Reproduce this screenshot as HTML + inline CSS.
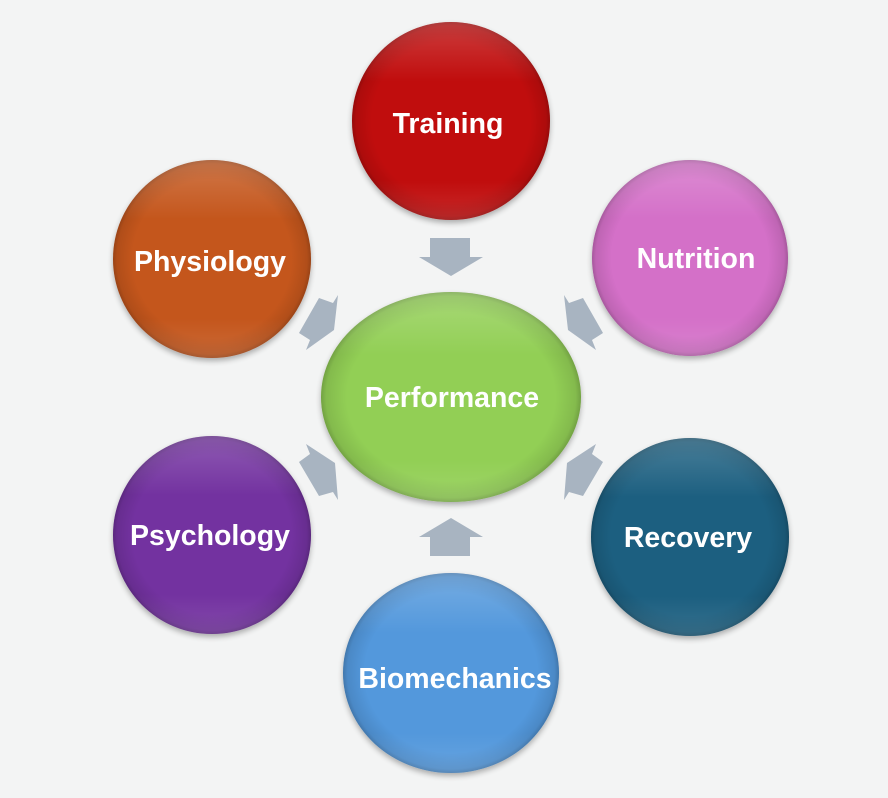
<!DOCTYPE html>
<html><head><meta charset="utf-8"><style>
html,body{margin:0;padding:0;background:#f3f4f4;}
svg{display:block}
text{font-family:"Liberation Sans",Arial,sans-serif;font-weight:bold;font-size:28.5px;fill:#fff;text-anchor:middle;dominant-baseline:central}
</style></head><body>
<svg width="888" height="798" viewBox="0 0 888 798" xmlns="http://www.w3.org/2000/svg">
<defs>
<radialGradient id="bev" cx="50%" cy="50%" r="50%">
<stop offset="0.8" stop-color="#000" stop-opacity="0"/>
<stop offset="0.96" stop-color="#000" stop-opacity="0.1"/>
<stop offset="1" stop-color="#000" stop-opacity="0.22"/>
</radialGradient>
<linearGradient id="hl" x1="0" y1="0" x2="0" y2="1">
<stop offset="0" stop-color="#fff" stop-opacity="0.2"/>
<stop offset="0.3" stop-color="#fff" stop-opacity="0"/>
<stop offset="0.8" stop-color="#fff" stop-opacity="0"/>
<stop offset="1" stop-color="#fff" stop-opacity="0.12"/>
</linearGradient>
<filter id="sh" x="-20%" y="-20%" width="140%" height="140%"><feGaussianBlur in="SourceAlpha" stdDeviation="3"/><feOffset dy="3"/><feComponentTransfer><feFuncA type="linear" slope="0.3"/></feComponentTransfer><feMerge><feMergeNode/><feMergeNode in="SourceGraphic"/></feMerge></filter>
</defs>
<g fill="#a8b4c1">
<polygon points="430,238 470,238 470,257 483,257 451,276 419,257 430,257"/>
<polygon points="430,556 470,556 470,537 483,537 451,518 419,537 430,537"/>
<polygon points="319,298 333,303 338,295 334,330 306,350 310,340 299,333"/>
<polygon points="306,444 335,463 338,500 333,492 319,496 299,462 310,454"/>
<polygon points="583,298 569,303 564,295 568,330 596,350 592,340 603,333"/>
<polygon points="596,444 567,463 564,500 569,492 583,496 603,462 592,454"/>
</g>
<g filter="url(#sh)">
<circle cx="451" cy="121" r="99" fill="#c00a0a"/>
<circle cx="690" cy="258" r="98" fill="#d46fc8"/>
<circle cx="212" cy="259" r="99" fill="#c4561e"/>
<circle cx="212" cy="535" r="99" fill="#7331a0"/>
<circle cx="690" cy="537" r="99" fill="#1c5f80"/>
<ellipse cx="451" cy="673" rx="108" ry="100" fill="#5398dc"/>
<ellipse cx="451" cy="397" rx="130" ry="105" fill="#92cf55"/>
</g>
<g>
<circle cx="451" cy="121" r="99" fill="url(#bev)"/><circle cx="451" cy="121" r="99" fill="url(#hl)"/>
<circle cx="690" cy="258" r="98" fill="url(#bev)"/><circle cx="690" cy="258" r="98" fill="url(#hl)"/>
<circle cx="212" cy="259" r="99" fill="url(#bev)"/><circle cx="212" cy="259" r="99" fill="url(#hl)"/>
<circle cx="212" cy="535" r="99" fill="url(#bev)"/><circle cx="212" cy="535" r="99" fill="url(#hl)"/>
<circle cx="690" cy="537" r="99" fill="url(#bev)"/><circle cx="690" cy="537" r="99" fill="url(#hl)"/>
<ellipse cx="451" cy="673" rx="108" ry="100" fill="url(#bev)"/><ellipse cx="451" cy="673" rx="108" ry="100" fill="url(#hl)"/>
<ellipse cx="451" cy="397" rx="130" ry="105" fill="url(#bev)"/><ellipse cx="451" cy="397" rx="130" ry="105" fill="url(#hl)"/>
</g>
<text x="448" y="124">Training</text>
<text x="696" y="259">Nutrition</text>
<text x="210" y="262">Physiology</text>
<text x="452" y="398">Performance</text>
<text x="210" y="536">Psychology</text>
<text x="688" y="538">Recovery</text>
<text x="455" y="679">Biomechanics</text>
</svg>
</body></html>
